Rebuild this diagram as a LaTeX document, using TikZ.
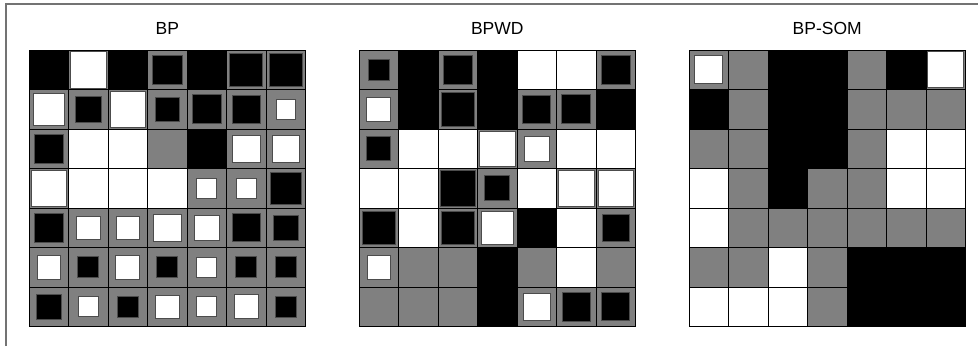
\documentclass[tikz,border=0pt]{standalone}
\usepackage{fontspec}
\setmainfont{Liberation Sans}
\colorlet{K}{black}
\colorlet{G}{black!50}
\colorlet{W}{white}
\def\cs{39.5}
% rows top to bottom: background/inner/size
\def\gridbp{%
  {K/K/0,G/W/.92,K/K/0,G/K/.74,K/K/0,G/K/.84,G/K/.82},
  {G/W/.8,G/K/.64,G/W/.9,G/K/.62,G/K/.73,G/K/.71,G/W/.5},
  {G/K/.72,W/W/0,W/W/0,G/G/0,K/K/0,G/W/.7,G/W/.7},
  {G/W/.9,W/W/0,W/W/0,W/W/0,G/W/.51,G/W/.51,G/K/.8},
  {G/K/.72,G/W/.6,G/W/.6,G/W/.7,G/W/.62,G/K/.71,G/K/.63},
  {G/W/.6,G/K/.53,G/W/.61,G/K/.53,G/W/.51,G/K/.53,G/K/.53},
  {G/K/.63,G/W/.51,G/K/.52,G/W/.6,G/W/.51,G/W/.61,G/K/.53}}
\def\gridwd{%
  {G/K/.53,K/K/0,G/K/.74,K/K/0,W/W/0,W/W/0,G/K/.74},
  {G/W/.61,K/K/0,G/K/.85,K/K/0,G/K/.71,G/K/.73,K/K/0},
  {G/K/.61,W/W/0,W/W/0,G/W/.9,G/W/.62,W/W/0,W/W/0},
  {W/W/0,W/W/0,G/K/.9,G/K/.63,W/W/0,G/W/.91,G/W/.9},
  {G/K/.83,W/W/0,G/K/.83,G/W/.82,K/K/0,W/W/0,G/K/.7},
  {G/W/.6,G/G/0,G/G/0,K/K/0,G/G/0,W/W/0,G/G/0},
  {G/G/0,G/G/0,G/G/0,K/K/0,G/W/.69,G/K/.72,G/K/.71}}
\def\gridsom{%
  {G/W/.71,G/G/0,K/K/0,K/K/0,G/G/0,K/K/0,G/W/.91},
  {K/K/0,G/G/0,K/K/0,K/K/0,G/G/0,G/G/0,G/G/0},
  {G/G/0,G/G/0,K/K/0,K/K/0,G/G/0,W/W/0,W/W/0},
  {W/W/0,G/G/0,K/K/0,G/G/0,G/G/0,W/W/0,W/W/0},
  {W/W/0,G/G/0,G/G/0,G/G/0,G/G/0,G/G/0,G/G/0},
  {G/G/0,G/G/0,W/W/0,G/G/0,K/K/0,K/K/0,K/K/0},
  {W/W/0,W/W/0,W/W/0,G/G/0,K/K/0,K/K/0,K/K/0}}
\begin{document}
\begin{tikzpicture}[x=1pt,y=-1pt,font=\fontsize{17.5}{20}\selectfont,
  hd/.style={anchor=center,inner sep=0pt},
  inr/.style={draw=black!70,line width=0.7pt},
  gl/.style={draw=black,line width=0.8pt}]
\useasboundingbox (0,0) rectangle (978,346);
\draw[black!55,line width=1.3pt] (6,346) -- (6,4) -- (978,4);
\foreach \name/\gx/\data in {BP/29/\gridbp,BPWD/359/\gridwd,BP-SOM/689/\gridsom}{
  \edef\rows{\data}
  \begin{scope}[shift={(\gx,50)}]
    \node[hd] (t\name) at ({3.5*\cs},-21.7) {\name};
    \foreach \row [count=\r] in \rows {
      \foreach \bg/\fg/\sz [count=\c] in \row {
        \fill[\bg] ({(\c-1)*\cs},{(\r-1)*\cs}) rectangle ++(\cs,\cs);
        \ifdim\sz pt>0pt
          \filldraw[inr,fill=\fg] ({(\c-.5-\sz/2)*\cs},{(\r-.5-\sz/2)*\cs})
            rectangle ++({\sz*\cs},{\sz*\cs});
        \fi
      }
    }
    \foreach \i in {0,...,7} {
      \draw[gl] ({\i*\cs},0) -- ({\i*\cs},{7*\cs});
      \draw[gl] (0,{\i*\cs}) -- ({7*\cs},{\i*\cs});
    }
  \end{scope}
}
\end{tikzpicture}
\end{document}
